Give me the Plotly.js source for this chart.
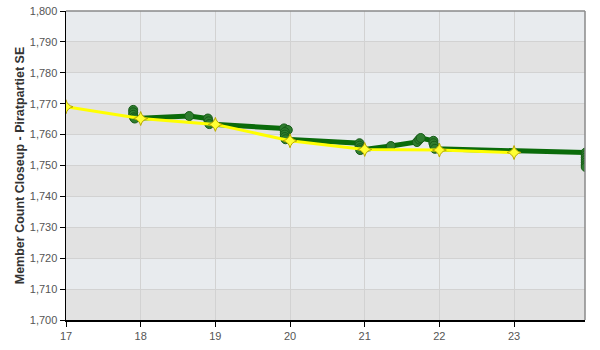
<!DOCTYPE html>
<html>
<head>
<meta charset="utf-8">
<script src="https://cdn.plot.ly/plotly-3.0.1.min.js"></script>
<style>html,body{margin:0;padding:0;background:#fff;}#chart{width:600px;height:350px;}</style>
</head>
<body>
<div id="chart"></div>
<script>
// Green series: member count samples (hour of day, count)
const greenHours = [17.90,17.90,17.90,17.91,17.92, 18.65, 18.90,18.91,18.92,
  19.92,19.97,19.93,19.93,19.93,19.94, 20.93,20.93,20.94,20.94, 21.35,
  21.70,21.73,21.75, 21.92,21.92,21.93,21.94,
  23.96,23.96,23.96,23.96,23.96,23.96,23.96];
const greenValues = [1768,1767.2,1766.4,1765.6,1765.2, 1766, 1765.2,1764.3,1763.4,
  1762,1761.5,1760.8,1760,1759.2,1758.5, 1757.2,1756.4,1755.6,1755, 1756.3,
  1757.6,1758.4,1758.9, 1758,1757.2,1756.4,1755.4,
  1754.2,1753.4,1752.6,1751.8,1751,1750.2,1749.5];

// Yellow series: hourly values
const yellowHours = [17,18,19,20,21,22,23];
const yellowValues = [1769,1765.2,1763.3,1758,1755.2,1755,1754.2];

const yTicks = [1700,1710,1720,1730,1740,1750,1760,1770,1780,1790,1800];
const xTicks = [17,18,19,20,21,22,23];
const xRange = [17, 23.95];

// alternating background bands between y ticks
const shapes = [];
for (let i = 0; i < yTicks.length - 1; i++) {
  if ((yTicks.length - 2 - i) % 2 === 1) {
    shapes.push({type:'rect', xref:'paper', yref:'y', x0:0, x1:1, y0:yTicks[i], y1:yTicks[i+1],
      fillcolor:'#e2e2e2', line:{width:0}, layer:'below'});
  }
}
shapes.push({type:'line', xref:'paper', yref:'paper', x0:0, x1:1, y0:1, y1:1, line:{color:'#8a8a8a', width:1.5}});
shapes.push({type:'line', xref:'paper', yref:'paper', x0:1, x1:1, y0:0, y1:1, line:{color:'#8a8a8a', width:1.5}});

const traces = [
  {x: greenHours, y: greenValues, type:'scatter', mode:'lines+markers',
   line:{color:'#0a6b0a', width:5},
   marker:{symbol:'circle', size:9, color:'#2f7d2f', line:{color:'#175c17', width:1}},
   hoverinfo:'x+y'},
  {x: yellowHours, y: yellowValues, type:'scatter', mode:'lines+markers',
   line:{color:'#ffff00', width:3},
   marker:{symbol:'star-diamond', size:10, color:'#ffff33', line:{color:'#b8a800', width:1}},
   hoverinfo:'x+y'}
];

const layout = {
  width:600, height:350,
  margin:{l:66, r:15, t:11, b:30},
  paper_bgcolor:'#ffffff',
  plot_bgcolor:'#e8ebee',
  showlegend:false,
  font:{family:'"Liberation Sans", Arial, sans-serif', size:11, color:'#555'},
  shapes: shapes,
  xaxis:{
    range:xRange, tickvals:xTicks, ticktext:xTicks.map(String),
    showgrid:true, gridcolor:'#d2d2d2', gridwidth:1, zeroline:false,
    showline:true, linecolor:'#000', linewidth:1.5,
    ticks:'outside', ticklen:5, tickcolor:'#000', tickwidth:1,
    tickfont:{size:11, color:'#555'}, automargin:false, fixedrange:true
  },
  yaxis:{
    range:[1700,1800], tickvals:yTicks, tickformat:',d',
    showgrid:true, gridcolor:'#d2d2d2', gridwidth:1, zeroline:false,
    showline:true, linecolor:'#000', linewidth:1.5,
    ticks:'outside', ticklen:5, tickcolor:'#000', tickwidth:1,
    tickfont:{size:11, color:'#555'}, automargin:false, fixedrange:true,
    title:{text:'Member Count Closeup - Piratpartiet SE', standoff:2,
      font:{size:12.5, color:'#333', family:'"Liberation Sans", Arial, sans-serif', weight:'bold'}}
  }
};

Plotly.newPlot('chart', traces, layout, {displayModeBar:false, staticPlot:true});
</script>
</body>
</html>
